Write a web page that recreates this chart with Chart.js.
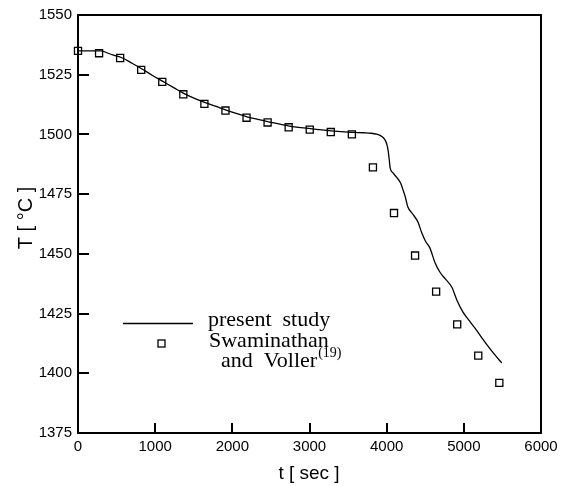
<!DOCTYPE html>
<html><head><meta charset="utf-8">
<script src="https://cdn.jsdelivr.net/npm/chart.js@4/dist/chart.umd.min.js"></script>
<style>html,body{margin:0;padding:0;background:#fff}#wrap{width:567px;height:486px;position:relative}</style>
</head><body><div id="wrap"><canvas id="c" width="567" height="486"></canvas></div>
<script>
// ---- data ----
const xTickValues = [0, 1000, 2000, 3000, 4000, 5000, 6000];
const yTickValues = [1375, 1400, 1425, 1450, 1475, 1500, 1525, 1550];

const studyTime = [0, 150, 300, 375, 450, 560, 700, 830, 960, 1100, 1240, 1370, 1510, 1650, 1790, 1920, 2060, 2190, 2330, 2470, 2740, 3010, 3280, 3550, 3700, 3800, 3870, 3920, 3960, 3985, 4005, 4020, 4035, 4045, 4080, 4130, 4180, 4210, 4240, 4275, 4330, 4404, 4456, 4500, 4560, 4624, 4689, 4760, 4845, 4909, 4987, 5060, 5142, 5220, 5298, 5400, 5492];
const studyTemp = [1535, 1535, 1535, 1534.2, 1533.3, 1532.2, 1529.8, 1527.4, 1524.8, 1522.2, 1519.6, 1517.2, 1515.1, 1513.3, 1511.7, 1510.2, 1508.7, 1507.4, 1506.3, 1505.3, 1503.5, 1502.4, 1501.5, 1500.9, 1500.7, 1500.5, 1500.1, 1499.5, 1498.5, 1497.3, 1495.5, 1493, 1489, 1486, 1484, 1482, 1479.7, 1477, 1474, 1469.6, 1467, 1463.4, 1458.7, 1455.5, 1452.5, 1446.5, 1442.4, 1439.5, 1436, 1430.7, 1425.7, 1422.5, 1419, 1415.5, 1412, 1407.8, 1404.3];

const svTime = [0, 273, 546, 819, 1092, 1365, 1638, 1911, 2184, 2457, 2730, 3003, 3276, 3549, 3822, 4095, 4368, 4641, 4914, 5187, 5460];
const svTemp = [1535, 1534, 1532, 1527, 1522, 1516.8, 1512.8, 1510, 1507, 1505, 1503, 1502, 1501, 1500, 1486.2, 1467.1, 1449.3, 1434.2, 1420.5, 1407.4, 1396];

const legendLabels = ['present  study', 'Swaminathan', 'and  Voller'];
const legendSup = '(19)';
const xTitle = 't [ sec ]';
const yTitle = 'T [ °C ]';

// ---- chart ----
const SANS = '"Liberation Sans", Arial, sans-serif';
const SERIF = '"Liberation Serif", "Times New Roman", serif';

const framePlugin = {
  id: 'frame',
  afterDraw(chart) {
    const ctx = chart.ctx;
    const a = chart.chartArea;
    const xs = chart.scales.x, ys = chart.scales.y;
    ctx.save();
    ctx.strokeStyle = '#000';
    ctx.lineWidth = 2;
    ctx.strokeRect(a.left, a.top, a.right - a.left, a.bottom - a.top);
    // inward ticks
    ctx.beginPath();
    xTickValues.forEach(v => {
      if (v === xs.min || v === xs.max) return;
      const px = Math.round(xs.getPixelForValue(v));
      ctx.moveTo(px, a.bottom); ctx.lineTo(px, a.bottom - 10);
    });
    yTickValues.forEach(v => {
      if (v === ys.min || v === ys.max) return;
      const py = Math.round(ys.getPixelForValue(v));
      ctx.moveTo(a.left, py); ctx.lineTo(a.left + 11, py);
    });
    ctx.stroke();
    // axis titles
    ctx.fillStyle = '#000';
    ctx.font = '19px ' + SANS;
    ctx.textAlign = 'center';
    ctx.textBaseline = 'middle';
    ctx.fillText(xTitle, 309, 474);
    ctx.save();
    ctx.translate(26, 218);
    ctx.rotate(-Math.PI / 2);
    ctx.font = '20px ' + SANS;
    ctx.fillText(yTitle, 0, 0);
    ctx.restore();
    // legend
    ctx.lineWidth = 1.3;
    ctx.beginPath();
    ctx.moveTo(123, 323.5); ctx.lineTo(193, 323.5);
    ctx.stroke();
    ctx.fillStyle = '#fff';
    ctx.fillRect(158, 340, 7, 7);
    ctx.strokeRect(158, 340, 7, 7);
    ctx.fillStyle = '#000';
    ctx.font = '22px ' + SERIF;
    ctx.textAlign = 'left';
    ctx.textBaseline = 'alphabetic';
    ctx.fillText(legendLabels[0], 208, 326);
    ctx.fillText(legendLabels[1], 209, 347);
    ctx.fillText(legendLabels[2], 221, 367);
    const w = ctx.measureText(legendLabels[2]).width;
    ctx.font = '14px ' + SERIF;
    ctx.fillText(legendSup, 221 + w + 1, 357);
    ctx.restore();
  }
};

new Chart(document.getElementById('c'), {
  type: 'line',
  data: {
    datasets: [
      {
        label: 'present study',
        data: studyTime.map((t, i) => ({ x: t, y: studyTemp[i] })),
        borderColor: '#000',
        borderWidth: 1.3,
        pointRadius: 0,
        fill: false,
        clip: false,
        cubicInterpolationMode: 'monotone'
      },
      {
        label: 'Swaminathan and Voller(19)',
        data: svTime.map((t, i) => ({ x: t, y: svTemp[i] })),
        showLine: false,
        clip: false,
        pointStyle: 'rect',
        pointRadius: 5,
        pointBackgroundColor: '#fff',
        pointBorderColor: '#000',
        pointBorderWidth: 1.3
      }
    ]
  },
  options: {
    responsive: false,
    animation: false,
    layout: { padding: { top: 15, right: 26, left: 0, bottom: 0 } },
    plugins: { legend: { display: false }, tooltip: { enabled: false } },
    scales: {
      x: {
        type: 'linear', min: 0, max: 6000,
        afterFit(s) { s.height = 53; },
        afterBuildTicks(s) { s.ticks = xTickValues.map(v => ({ value: v })); },
        grid: { display: false, drawTicks: false },
        border: { display: false },
        ticks: { color: '#000', font: { family: SANS, size: 15 }, padding: 5, autoSkip: false, maxRotation: 0, callback: v => String(v) }
      },
      y: {
        type: 'linear', min: 1375, max: 1550,
        afterFit(s) { s.width = 78; },
        afterBuildTicks(s) { s.ticks = yTickValues.map(v => ({ value: v })); },
        grid: { display: false, drawTicks: false },
        border: { display: false },
        ticks: { color: '#000', font: { family: SANS, size: 15 }, padding: 6, autoSkip: false, callback: v => String(v) }
      }
    }
  },
  plugins: [framePlugin]
});
</script>
</body></html>
